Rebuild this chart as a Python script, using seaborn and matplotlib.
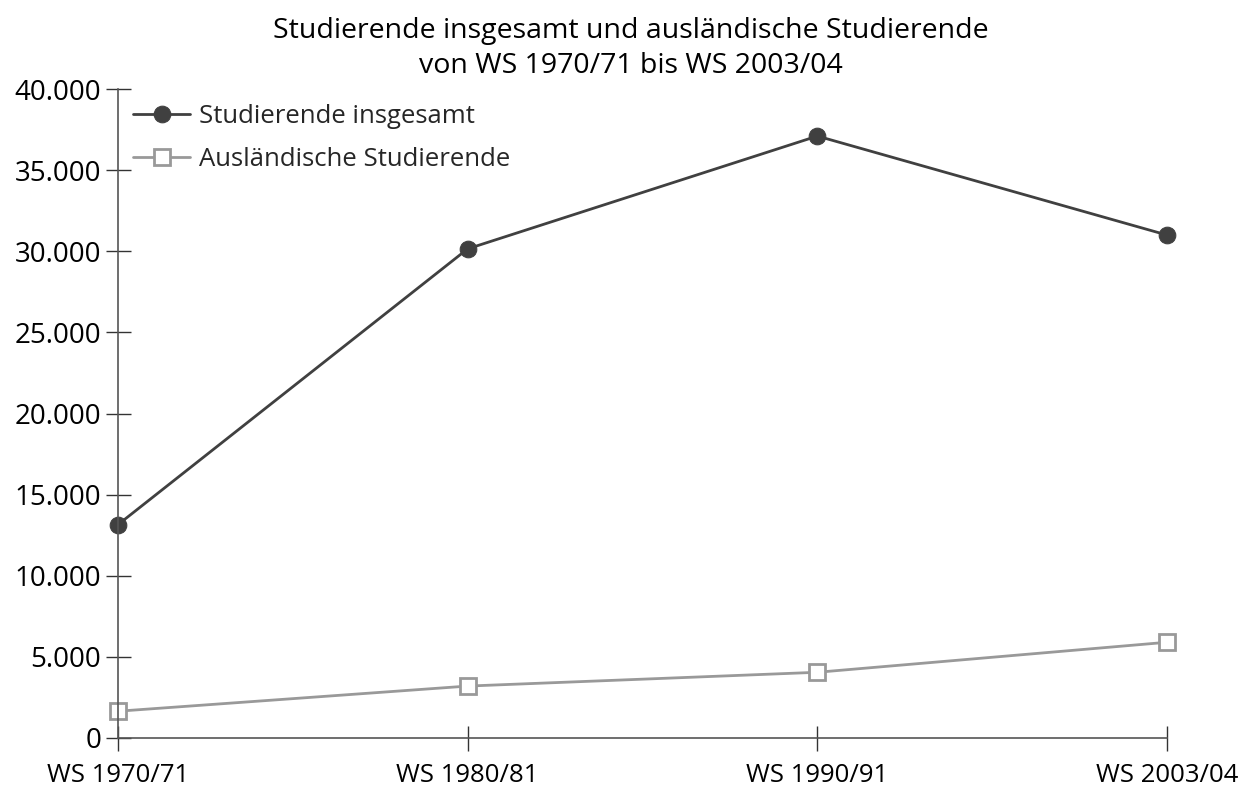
import pandas as pd
import seaborn as sns
import matplotlib.pyplot as plt
from matplotlib.ticker import FuncFormatter

# values
semester = ["WS 1970/71", "WS 1980/81", "WS 1990/91", "WS 2003/04"]
studierende_insgesamt = [13150, 30150, 37100, 31000]
auslaendische_studierende = [1650, 3200, 4050, 5900]

sns.set_theme(style="white")
plt.rcParams['font.family'] = ['Open Sans', 'DejaVu Sans']

df = pd.DataFrame({
    "Semester": semester * 2,
    "Anzahl": studierende_insgesamt + auslaendische_studierende,
    "Reihe": ["Studierende insgesamt"] * 4 + ["Ausländische Studierende"] * 4,
})

fig = plt.figure(figsize=(12.5, 7.92), dpi=100)
ax = fig.add_axes([0.0944, 0.0682, 0.8392, 0.8194])

dark = "#404040"
grey = "#999999"

sns.lineplot(data=df[df["Reihe"] == "Studierende insgesamt"], x="Semester", y="Anzahl",
             sort=False, color=dark, linewidth=2, marker="o", markersize=12,
             markerfacecolor=dark, markeredgecolor=dark, clip_on=False,
             label="Studierende insgesamt", ax=ax)
sns.lineplot(data=df[df["Reihe"] == "Ausländische Studierende"], x="Semester", y="Anzahl",
             sort=False, color=grey, linewidth=2, marker="s", markersize=11,
             markerfacecolor="white", markeredgecolor=grey, markeredgewidth=2,
             clip_on=False, label="Ausländische Studierende", ax=ax)

ax.set_xlim(0, len(semester) - 1)
ax.set_ylim(0, 40000)
ax.set_yticks(range(0, 40001, 5000))
ax.yaxis.set_major_formatter(FuncFormatter(lambda v, p: f"{int(v):,}".replace(",", ".")))
ax.set_xlabel("")
ax.set_ylabel("")

for side in ["top", "right"]:
    ax.spines[side].set_visible(False)
for side in ["left", "bottom"]:
    ax.spines[side].set_color("#555555")
    ax.spines[side].set_linewidth(1.2)

ax.tick_params(axis="both", direction="inout", length=18, width=1, color="#333333",
               labelsize=20, labelcolor="black", left=True, bottom=True)
ax.tick_params(axis="x", pad=9, labelsize=18.5)
ax.tick_params(axis="y", pad=3)

fig.suptitle("Studierende insgesamt und ausländische Studierende\nvon WS 1970/71 bis WS 2003/04",
             x=0.505, y=0.978, fontsize=20.5, color="black", linespacing=1.3, va="top")

leg = ax.legend(loc="upper left", bbox_to_anchor=(0.0, 1.0), frameon=False,
                fontsize=18.5, handlelength=2.2, handletextpad=0.35, labelspacing=0.68,
                borderaxespad=0.3, borderpad=0.3)

fig.savefig("out.png", dpi=100)
